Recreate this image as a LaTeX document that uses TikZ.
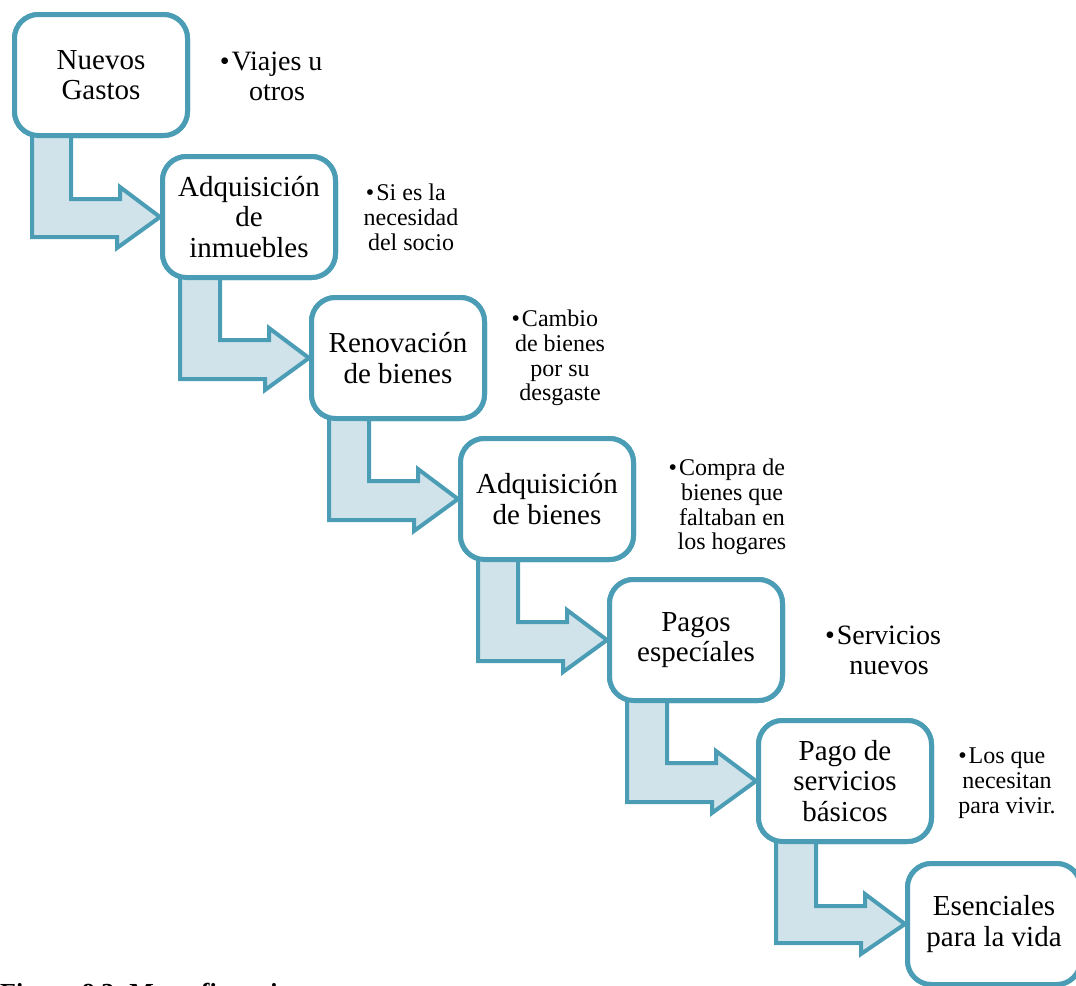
\documentclass[tikz,border=0pt]{standalone}
\usepackage{fontspec}
\setmainfont{Liberation Serif}
\usetikzlibrary{calc}
\definecolor{edge}{HTML}{4A9DB5}
\definecolor{flowfill}{HTML}{D1E3EA}
% bullet hanging to the left of a centred first line
\newcommand\bulletmark{\llap{\textbullet\hspace{2pt}}}
\begin{document}
\begin{tikzpicture}[x=1pt,y=-1pt,
  stage/.style={draw=edge, line width=5pt, fill=white, rounded corners=24pt,
    minimum width=173pt, minimum height=121pt, align=center, inner sep=0pt,
    font=\fontsize{29}{30.5}\selectfont},
  note/.style={align=center, inner sep=0pt, font=\fontsize{24}{24.8}\selectfont},
  bignote/.style={note, font=\fontsize{28}{30}\selectfont},
  flow/.style={draw=edge, fill=flowfill, line width=4pt, line join=miter}]
\useasboundingbox (0,0) rectangle (1076,985);

% stage boxes, stepping down to the right
\node[stage] (b1) at (101,75)  {Nuevos\\Gastos};
\node[stage] (b2) at (249,217) {Adquisición\\de\\inmuebles};
\node[stage] (b3) at (398,358) {Renovación\\de bienes};
\node[stage] (b4) at (547,499) {Adquisición\\de bienes};
\node[stage] (b5) at (696,640) {Pagos\\especíales};
\node[stage] (b6) at (845,781) {Pago de\\servicios\\básicos};
\node[stage] (b7) at (994,924) {Esenciales\\para la vida};

% bent arrows from each box into the next one
\foreach \a/\b in {b1/b2,b2/b3,b3/b4,b4/b5,b5/b6,b6/b7}{
  \draw[flow] ($(\a.south west)+(20,-10)$) -- ++(0,109) -- ++(85,0) -- ++(0,11)
    -- (\b.west) -- ++(-40,-30) -- ++(0,12) -- ++(-49,0) -- ++(0,-72) -- cycle;
}

% redraw the boxes on top of the arrow shafts
\node[stage] at (b1) {Nuevos\\Gastos};
\node[stage] at (b2) {Adquisición\\de\\inmuebles};
\node[stage] at (b3) {Renovación\\de bienes};
\node[stage] at (b4) {Adquisición\\de bienes};
\node[stage] at (b5) {Pagos\\especíales};
\node[stage] at (b6) {Pago de\\servicios\\básicos};
\node[stage] at (b7) {Esenciales\\para la vida};

% side notes
\node[bignote] (n1) at (277,76)  {\bulletmark Viajes u\\otros};
\node[note]    (n2) at (411,217) {\bulletmark Si es la\\necesidad\\del socio};
\node[note]    (n3) at (560,358) {\bulletmark Cambio\\de bienes\\por su\\desgaste};
\node[note]    (n4) at (732,507) {\bulletmark Compra de\\bienes que\\faltaban en\\los hogares};
\node[bignote] (n5) at (889,650) {\bulletmark Servicios\\nuevos};
\node[note]    (n6) at (1007,783) {\bulletmark Los que\\necesitan\\para vivir.};

% caption, running off the lower edge
\node[anchor=base west, inner sep=0pt, font=\fontsize{26}{28}\selectfont\bfseries]
  (cap) at (0,1001) {Figura 8.3. Mapa financiero};
\end{tikzpicture}
\end{document}
